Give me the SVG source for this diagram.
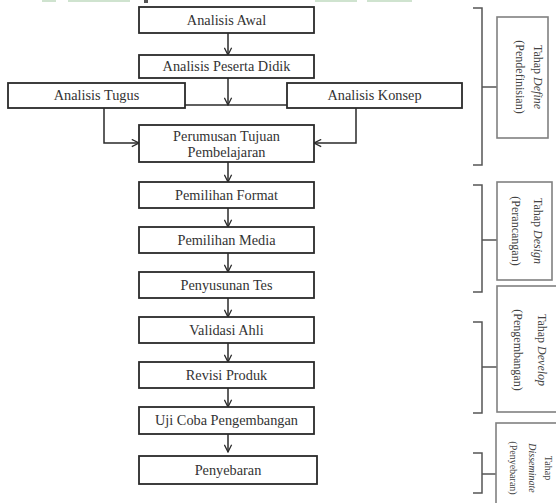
<svg xmlns="http://www.w3.org/2000/svg" width="556" height="503" viewBox="0 0 556 503">
<style>
.box{fill:#fff;stroke:#2a2a2a;stroke-width:1.8}
.side{fill:#fff;stroke:#808080;stroke-width:1.6}
.lbl{font-size:14.3px;fill:#333;text-anchor:middle}
.slbl{font-size:12px;fill:#444;text-anchor:middle}
.sslbl{font-size:10px;fill:#444;text-anchor:middle}
.con{fill:none;stroke:#2a2a2a;stroke-width:1.5}
.br{fill:none;stroke:#555;stroke-width:1.5}
</style>
<defs>
<marker id="ah" viewBox="0 0 10 10" refX="9" refY="5" markerWidth="9" markerHeight="9" markerUnits="userSpaceOnUse" orient="auto">
<path d="M1,1 L9,5 L1,9" fill="none" stroke="#2a2a2a" stroke-width="1.4"/>
</marker>
</defs>
<rect width="556" height="503" fill="#fff"/>
<g id="topstrip" fill="#cfe3cf">
<rect x="42" y="0" width="14" height="2"/>
<rect x="68" y="0" width="62" height="2"/>
<rect x="144" y="0" width="4" height="3" fill="#555"/>
<rect x="315" y="0" width="42" height="2"/>
<rect x="367" y="0" width="45" height="2"/>
</g>
<g id="connectors">
<line class="con" x1="228" y1="33" x2="228" y2="55" marker-end="url(#ah)"/>
<line class="con" x1="228" y1="78" x2="228" y2="105" marker-end="url(#ah)"/>
<line class="con" x1="185" y1="105" x2="287" y2="105"/>
<polyline class="con" points="104,108 104,143 139,143" marker-end="url(#ah)"/>
<polyline class="con" points="356,108 356,143 314,143" marker-end="url(#ah)"/>
<line class="con" x1="228" y1="162" x2="228" y2="182" marker-end="url(#ah)"/>
<line class="con" x1="228" y1="208" x2="228" y2="227" marker-end="url(#ah)"/>
<line class="con" x1="228" y1="253" x2="228" y2="272" marker-end="url(#ah)"/>
<line class="con" x1="228" y1="298" x2="228" y2="317" marker-end="url(#ah)"/>
<line class="con" x1="228" y1="343" x2="228" y2="362" marker-end="url(#ah)"/>
<line class="con" x1="228" y1="388" x2="228" y2="407" marker-end="url(#ah)"/>
<line class="con" x1="228" y1="434" x2="228" y2="452" marker-end="url(#ah)"/>
</g>
<g font-family="'Liberation Serif', 'Times New Roman', serif">
<g id="analisis-awal"><rect class="box" x="139" y="7" width="175" height="26"/><text class="lbl" x="226.5" y="25">Analisis Awal</text></g>
<g id="analisis-peserta"><rect class="box" x="139" y="55" width="175" height="23"/><text class="lbl" x="226.5" y="71">Analisis Peserta Didik</text></g>
<g id="analisis-tugus"><rect class="box" x="8" y="83" width="177" height="25"/><text class="lbl" x="96.5" y="100">Analisis Tugus</text></g>
<g id="analisis-konsep"><rect class="box" x="287" y="83" width="175" height="25"/><text class="lbl" x="374.5" y="100">Analisis Konsep</text></g>
<g id="perumusan"><rect class="box" x="139" y="125" width="175" height="37"/><text class="lbl" x="226.5" y="141">Perumusan Tujuan</text><text class="lbl" x="226.5" y="157">Pembelajaran</text></g>
<g id="format"><rect class="box" x="139" y="182" width="175" height="26"/><text class="lbl" x="226.5" y="200">Pemilihan Format</text></g>
<g id="media"><rect class="box" x="139" y="227" width="175" height="26"/><text class="lbl" x="226.5" y="245">Pemilihan Media</text></g>
<g id="tes"><rect class="box" x="139" y="272" width="175" height="26"/><text class="lbl" x="226.5" y="290">Penyusunan Tes</text></g>
<g id="validasi"><rect class="box" x="139" y="317" width="175" height="26"/><text class="lbl" x="226.5" y="335">Validasi Ahli</text></g>
<g id="revisi"><rect class="box" x="139" y="362" width="175" height="26"/><text class="lbl" x="226.5" y="380">Revisi Produk</text></g>
<g id="ujicoba"><rect class="box" x="139" y="407" width="175" height="27"/><text class="lbl" x="226.5" y="425">Uji Coba Pengembangan</text></g>
<g id="penyebaran"><rect class="box" x="139" y="456" width="178" height="28"/><text class="lbl" x="228" y="475">Penyebaran</text></g>
<g id="brackets">
<polyline class="br" points="473,8 482,8 482,165 473,165"/><line class="br" x1="482" y1="87" x2="497" y2="87"/>
<polyline class="br" points="473,185 482,185 482,292 473,292"/><line class="br" x1="482" y1="240" x2="497" y2="240"/>
<polyline class="br" points="473,322 482,322 482,413 473,413"/><line class="br" x1="482" y1="367" x2="497" y2="367"/>
<polyline class="br" points="473,453 482,453 482,493 473,493"/><line class="br" x1="482" y1="474" x2="496" y2="474"/>
</g>
<g id="tahap-define"><rect class="side" x="497" y="17" width="51" height="121"/>
<g transform="translate(529,77) rotate(90)"><text class="slbl" x="0" y="-5">Tahap <tspan font-style="italic">Define</tspan></text><text class="slbl" x="0" y="13">(Pendefinisian)</text></g></g>
<g id="tahap-design"><rect class="side" x="497" y="182" width="55" height="98"/>
<g transform="translate(527,231) rotate(90)"><text class="slbl" x="0" y="-7">Tahap <tspan font-style="italic">Design</tspan></text><text class="slbl" x="0" y="15">(Perancangan)</text></g></g>
<g id="tahap-develop"><rect class="side" x="497" y="286" width="62" height="126"/>
<g transform="translate(530,350) rotate(90)"><text class="slbl" x="0" y="-8">Tahap <tspan font-style="italic">Develop</tspan></text><text class="slbl" x="0" y="16">(Pengembangan)</text></g></g>
<g id="tahap-disseminate"><rect class="side" x="496" y="423" width="63" height="90"/>
<g transform="translate(530,468) rotate(90)"><text class="sslbl" x="0" y="-15">Tahap</text><text class="sslbl" x="0" y="1" font-style="italic">Disseminate</text><text class="sslbl" x="0" y="20">(Penyebaran)</text></g></g>
</g>
</svg>
